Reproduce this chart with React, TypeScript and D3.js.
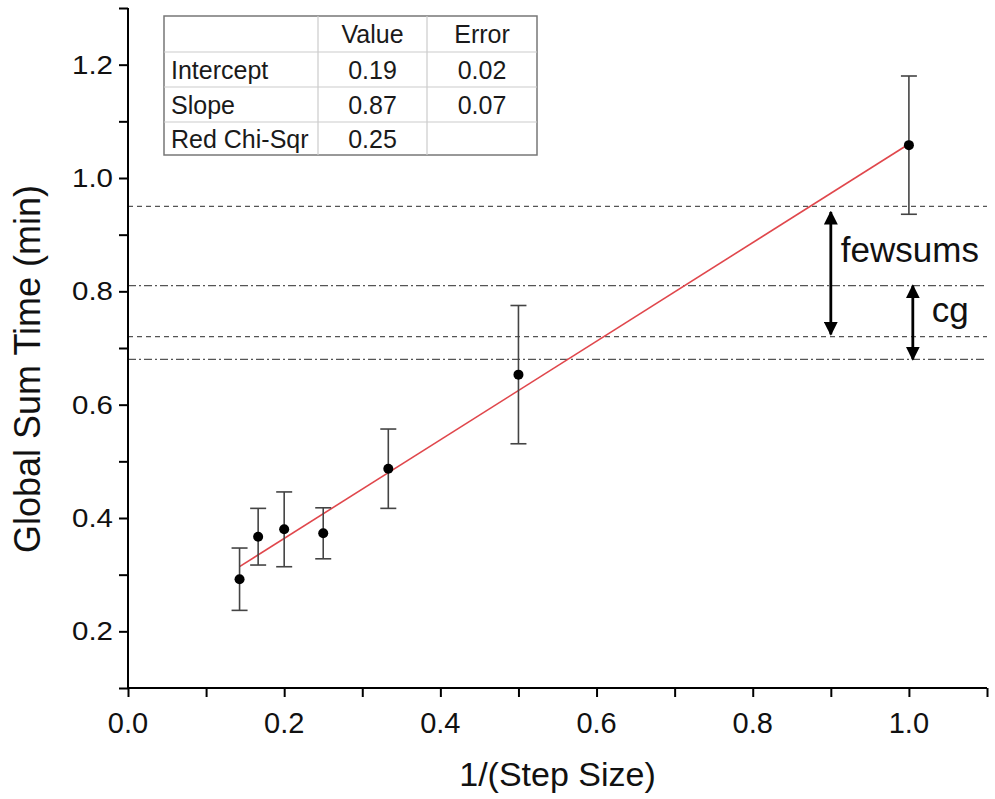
import React, { useEffect, useRef } from 'react';
import * as d3 from 'd3';

// measured points: x = 1/(step size)
const stepInv = [1 / 7, 1 / 6, 0.2, 0.25, 1 / 3, 0.5, 1.0];
const sumTime = [0.292, 0.367, 0.38, 0.373, 0.487, 0.653, 1.058];
const sumErr = [0.055, 0.05, 0.066, 0.045, 0.07, 0.122, 0.122];

// linear fit
const fitIntercept = 0.19;
const fitSlope = 0.87;
const fitRange = [1 / 7, 1.0];

// reference levels
const refLevels = [0.95, 0.81, 0.72, 0.68];
const refStyles = ['dash', 'dashdot', 'dash', 'dashdot'];

const tableHeader = ['', 'Value', 'Error'];
const tableRows = [
    ['Intercept', '0.19', '0.02'],
    ['Slope', '0.87', '0.07'],
    ['Red Chi-Sqr', '0.25', ''],
];

const xTicks = [0, 0.2, 0.4, 0.6, 0.8, 1.0];
const yTicks = [0.2, 0.4, 0.6, 0.8, 1.0, 1.2];

const arrows = [
    { label: 'fewsums', x: 0.9, from: 0.94, to: 0.724, labelY: 0.852, dx: 10 },
    { label: 'cg', x: 1.005, from: 0.81, to: 0.68, labelY: 0.746, dx: 19 },
];

export default function App() {
    const ref = useRef<SVGSVGElement>(null);

    useEffect(() => {
        const totalWidth = 995;
        const totalHeight = 799;
        const margin = { top: 8, right: 8, bottom: 111, left: 128 };
        const width = totalWidth - margin.left - margin.right;
        const height = totalHeight - margin.top - margin.bottom;
        const font = '"Liberation Sans", Arial, sans-serif';

        const root = d3.select(ref.current);
        root.selectAll('*').remove();
        root.attr('width', totalWidth).attr('height', totalHeight);

        const defs = root.append('defs');
        defs.append('marker')
            .attr('id', 'head')
            .attr('viewBox', '0 0 10 10')
            .attr('refX', 9)
            .attr('refY', 5)
            .attr('markerWidth', 5)
            .attr('markerHeight', 5)
            .attr('markerUnits', 'strokeWidth')
            .attr('orient', 'auto-start-reverse')
            .append('path')
            .attr('d', 'M0,0 L10,5 L0,10 z')
            .attr('fill', '#000');

        const svg = root.append('g')
            .attr('transform', `translate(${margin.left},${margin.top})`);

        const x = d3.scaleLinear().domain([0, 1.1]).range([0, width]);
        const y = d3.scaleLinear().domain([0.1, 1.3]).range([height, 0]);

        // reference lines
        svg.selectAll('.ref')
            .data(refLevels)
            .enter()
            .append('line')
            .attr('x1', 0)
            .attr('x2', width)
            .attr('y1', d => y(d))
            .attr('y2', d => y(d))
            .attr('stroke', '#555')
            .attr('stroke-width', 1.2)
            .attr('stroke-dasharray', (d, i) => refStyles[i] === 'dash' ? '5,4' : '8,3,2,3');

        // fit line
        svg.append('line')
            .attr('x1', x(fitRange[0]))
            .attr('x2', x(fitRange[1]))
            .attr('y1', y(fitIntercept + fitSlope * fitRange[0]))
            .attr('y2', y(fitIntercept + fitSlope * fitRange[1]))
            .attr('stroke', '#e0474c')
            .attr('stroke-width', 1.6);

        // error bars
        const pts = stepInv.map((v, i) => ({ x: v, y: sumTime[i], e: sumErr[i] }));
        const bars = svg.selectAll('.eb').data(pts).enter().append('g')
            .attr('stroke', '#444')
            .attr('stroke-width', 1.6);
        bars.append('line')
            .attr('x1', d => x(d.x)).attr('x2', d => x(d.x))
            .attr('y1', d => y(d.y - d.e)).attr('y2', d => y(d.y + d.e));
        bars.append('line')
            .attr('x1', d => x(d.x) - 8).attr('x2', d => x(d.x) + 8)
            .attr('y1', d => y(d.y + d.e)).attr('y2', d => y(d.y + d.e));
        bars.append('line')
            .attr('x1', d => x(d.x) - 8).attr('x2', d => x(d.x) + 8)
            .attr('y1', d => y(d.y - d.e)).attr('y2', d => y(d.y - d.e));

        svg.selectAll('.pt').data(pts).enter().append('circle')
            .attr('cx', d => x(d.x))
            .attr('cy', d => y(d.y))
            .attr('r', 5)
            .attr('fill', '#000');

        // annotation arrows
        arrows.forEach(a => {
            svg.append('line')
                .attr('x1', x(a.x)).attr('x2', x(a.x))
                .attr('y1', y(a.from)).attr('y2', y(a.to))
                .attr('stroke', '#000')
                .attr('stroke-width', 2.8)
                .attr('marker-start', 'url(#head)')
                .attr('marker-end', 'url(#head)');
            svg.append('text')
                .attr('x', x(a.x) + a.dx)
                .attr('y', y(a.labelY))
                .text(a.label)
                .style('font-family', font)
                .style('font-size', '35px')
                .attr('fill', '#111');
        });

        // axes
        const xAxis = svg.append('g')
            .attr('transform', `translate(0,${height})`)
            .call(d3.axisBottom(x).tickValues(d3.range(0, 1.11, 0.1)).tickSize(9).tickFormat(() => ''));
        xAxis.select('.domain').attr('stroke-width', 2).attr('d', `M0,0H${width}`);
        xAxis.selectAll('.tick line').attr('stroke-width', 2);
        svg.append('g')
            .selectAll('text')
            .data(xTicks)
            .enter()
            .append('text')
            .attr('x', d => x(d))
            .attr('y', height + 45)
            .attr('text-anchor', 'middle')
            .text(d => d3.format('.1f')(d))
            .style('font-family', font)
            .style('font-size', '29px')
            .attr('fill', '#111');

        const yAxis = svg.append('g')
            .call(d3.axisLeft(y).tickValues(d3.range(0.1, 1.31, 0.1)).tickSize(9).tickFormat(() => ''));
        yAxis.select('.domain').attr('stroke-width', 2).attr('d', `M0,${height}V0`);
        yAxis.selectAll('.tick line').attr('stroke-width', 2);
        svg.append('g')
            .selectAll('text')
            .data(yTicks)
            .enter()
            .append('text')
            .attr('transform', d => `translate(-15,${y(d) + 9}) scale(1.18,1)`)
            .attr('text-anchor', 'end')
            .text(d => d3.format('.1f')(d))
            .style('font-family', font)
            .style('font-size', '25px')
            .attr('fill', '#111');

        svg.append('text')
            .attr('text-anchor', 'middle')
            .attr('x', width / 2)
            .attr('y', height + 98)
            .text('1/(Step Size)')
            .style('font-family', font)
            .style('font-size', '34px')
            .attr('fill', '#111');

        svg.append('text')
            .attr('text-anchor', 'middle')
            .attr('transform', 'rotate(-90)')
            .attr('x', -(369 - margin.top))
            .attr('y', -margin.left + 40)
            .text('Global Sum Time (min)')
            .style('font-family', font)
            .style('font-size', '36px')
            .attr('fill', '#111');

        // fit table
        const colEdges = [164, 318, 427, 537];
        const rowEdges = [16, 52, 87, 122, 155];
        const tbl = root.append('g');
        tbl.append('rect')
            .attr('x', colEdges[0]).attr('y', rowEdges[0])
            .attr('width', colEdges[3] - colEdges[0])
            .attr('height', rowEdges[4] - rowEdges[0])
            .attr('fill', '#fff')
            .attr('stroke', '#777')
            .attr('stroke-width', 1.5);
        rowEdges.slice(1, 4).forEach(r => {
            tbl.append('line').attr('x1', colEdges[0]).attr('x2', colEdges[3])
                .attr('y1', r).attr('y2', r).attr('stroke', '#ccc').attr('stroke-width', 1.2);
        });
        colEdges.slice(1, 3).forEach(c => {
            tbl.append('line').attr('x1', c).attr('x2', c)
                .attr('y1', rowEdges[0]).attr('y2', rowEdges[4]).attr('stroke', '#ccc').attr('stroke-width', 1.2);
        });
        [tableHeader, ...tableRows].forEach((row, ri) => {
            row.forEach((cell, ci) => {
                const mid = (rowEdges[ri] + rowEdges[ri + 1]) / 2;
                tbl.append('text')
                    .attr('x', ci === 0 ? colEdges[0] + 7 : (colEdges[ci] + colEdges[ci + 1]) / 2)
                    .attr('y', mid + 9)
                    .attr('text-anchor', ci === 0 ? 'start' : 'middle')
                    .text(cell)
                    .style('font-family', font)
                    .style('font-size', '25px')
                    .attr('fill', '#1a1a1a');
            });
        });
    }, []);

    return (
        <svg ref={ref} style={{ position: 'absolute', left: 0, top: 0 }} />
    );
}
